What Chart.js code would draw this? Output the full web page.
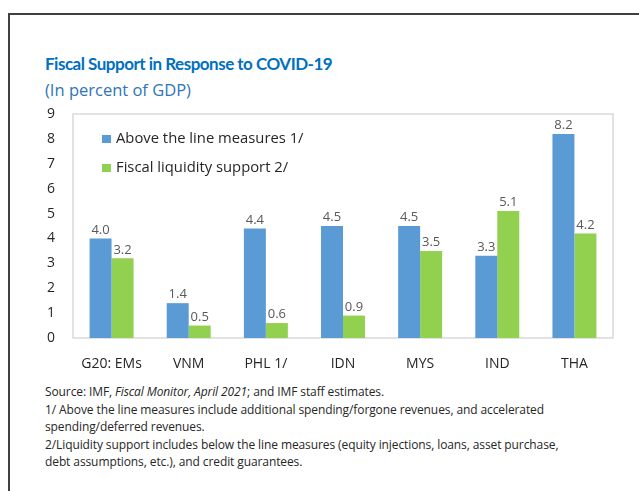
<!DOCTYPE html>
<html>
<head>
<meta charset="utf-8">
<script src="https://cdn.jsdelivr.net/npm/chart.js@4"></script>
<style>
  html, body { margin: 0; padding: 0; background: #fff; }
  body { width: 639px; height: 491px; position: relative; overflow: hidden; font-family: "Open Sans", sans-serif; }
  #frame { position: absolute; left: 8px; top: 13px; width: 700px; height: 600px; border: 2px solid #404040; }
  #title { position: absolute; left: 45px; top: 53px; font-family: Lato, sans-serif; font-size: 17px; font-weight: bold; letter-spacing: -0.5px; color: #0070c0; }
  #subtitle { position: absolute; left: 45px; top: 78px; font-size: 16.5px; color: #2e75b6; }
  #wrap { position: absolute; left: 0; top: 100px; width: 639px; height: 280px; }
  #notes { position: absolute; left: 45px; top: 383px; width: 520px; font-size: 12px; letter-spacing: -0.1px; line-height: 17.5px; color: #262626; }
</style>
</head>
<body>
<div id="frame"></div>
<div id="title">Fiscal Support in Response to COVID-19</div>
<div id="subtitle">(In percent of GDP)</div>
<div id="wrap"><canvas id="chart"></canvas></div>
<div id="notes">
  Source: IMF, <i>Fiscal Monitor, April 2021</i>; and IMF staff estimates.<br>
  1/ Above the line measures include additional spending/forgone revenues, and accelerated spending/deferred revenues.<br>
  2/Liquidity support includes below the line measures (equity injections, loans, asset purchase, debt assumptions, etc.), and credit guarantees.
</div>
<script>
var categories = ['G20: EMs', 'VNM', 'PHL 1/', 'IDN', 'MYS', 'IND', 'THA'];
var aboveLine = [4.0, 1.4, 4.4, 4.5, 4.5, 3.3, 8.2];
var liquidity = [3.2, 0.5, 0.6, 0.9, 3.5, 5.1, 4.2];
var seriesNames = ['Above the line measures 1/', 'Fiscal liquidity support 2/'];
var yTicks = [0, 1, 2, 3, 4, 5, 6, 7, 8, 9];

var fontFamily = '"Open Sans", sans-serif';

// frame round the plot area, legend inside it, and values over the bars
var extras = {
   id: 'extras',
   beforeDatasetsDraw: function (chart) {
      var ctx = chart.ctx, a = chart.chartArea;
      ctx.save();
      ctx.strokeStyle = '#d9d9d9';
      ctx.lineWidth = 1.5;
      ctx.strokeRect(a.left, a.top, a.right - a.left, a.bottom - a.top);
      ctx.restore();
   },
   afterDatasetsDraw: function (chart) {
      var ctx = chart.ctx, a = chart.chartArea;
      ctx.save();
      ctx.font = '13px ' + fontFamily;
      ctx.fillStyle = '#595959';
      ctx.textAlign = 'center';
      ctx.textBaseline = 'bottom';
      chart.data.datasets.forEach(function (ds, i) {
         chart.getDatasetMeta(i).data.forEach(function (bar, j) {
            ctx.fillText(ds.data[j].toFixed(1), bar.x, bar.y - 2);
         });
      });
      ctx.font = '14.8px ' + fontFamily;
      ctx.textAlign = 'left';
      ctx.textBaseline = 'middle';
      chart.data.datasets.forEach(function (ds, i) {
         var y = a.top + 25 + i * 29;
         ctx.fillStyle = ds.backgroundColor;
         ctx.fillRect(a.left + 29, y - 4, 9, 8);
         ctx.fillStyle = '#262626';
         ctx.fillText(ds.label, a.left + 43, y);
      });
      ctx.restore();
   }
};

new Chart(document.getElementById('chart'), {
   type: 'bar',
   data: {
      labels: categories,
      datasets: [
         { label: seriesNames[0], data: aboveLine, backgroundColor: '#5b9bd5' },
         { label: seriesNames[1], data: liquidity, backgroundColor: '#92d050' }
      ]
   },
   options: {
      responsive: true,
      maintainAspectRatio: false,
      animation: false,
      categoryPercentage: 0.57,
      barPercentage: 1,
      layout: { padding: { left: 0, right: 26, top: 14, bottom: 0 } },
      plugins: { legend: { display: false }, tooltip: { enabled: false } },
      scales: {
         x: {
            grid: { display: false, drawTicks: false },
            border: { display: false },
            ticks: { color: '#262626', font: { family: fontFamily, size: 14 }, padding: 18 },
            afterFit: function (s) { s.height = 42; s.paddingLeft = 0; s.paddingRight = 0; }
         },
         y: {
            min: 0, max: 9,
            grid: { display: false, drawTicks: false },
            border: { display: false },
            afterBuildTicks: function (s) { s.ticks = yTicks.map(function (v) { return { value: v }; }); },
            ticks: { color: '#262626', font: { family: fontFamily, size: 14 }, padding: 18 },
            afterFit: function (s) { s.width = 73; s.paddingTop = 0; s.paddingBottom = 0; }
         }
      }
   },
   plugins: [extras]
});
</script>
</body>
</html>
